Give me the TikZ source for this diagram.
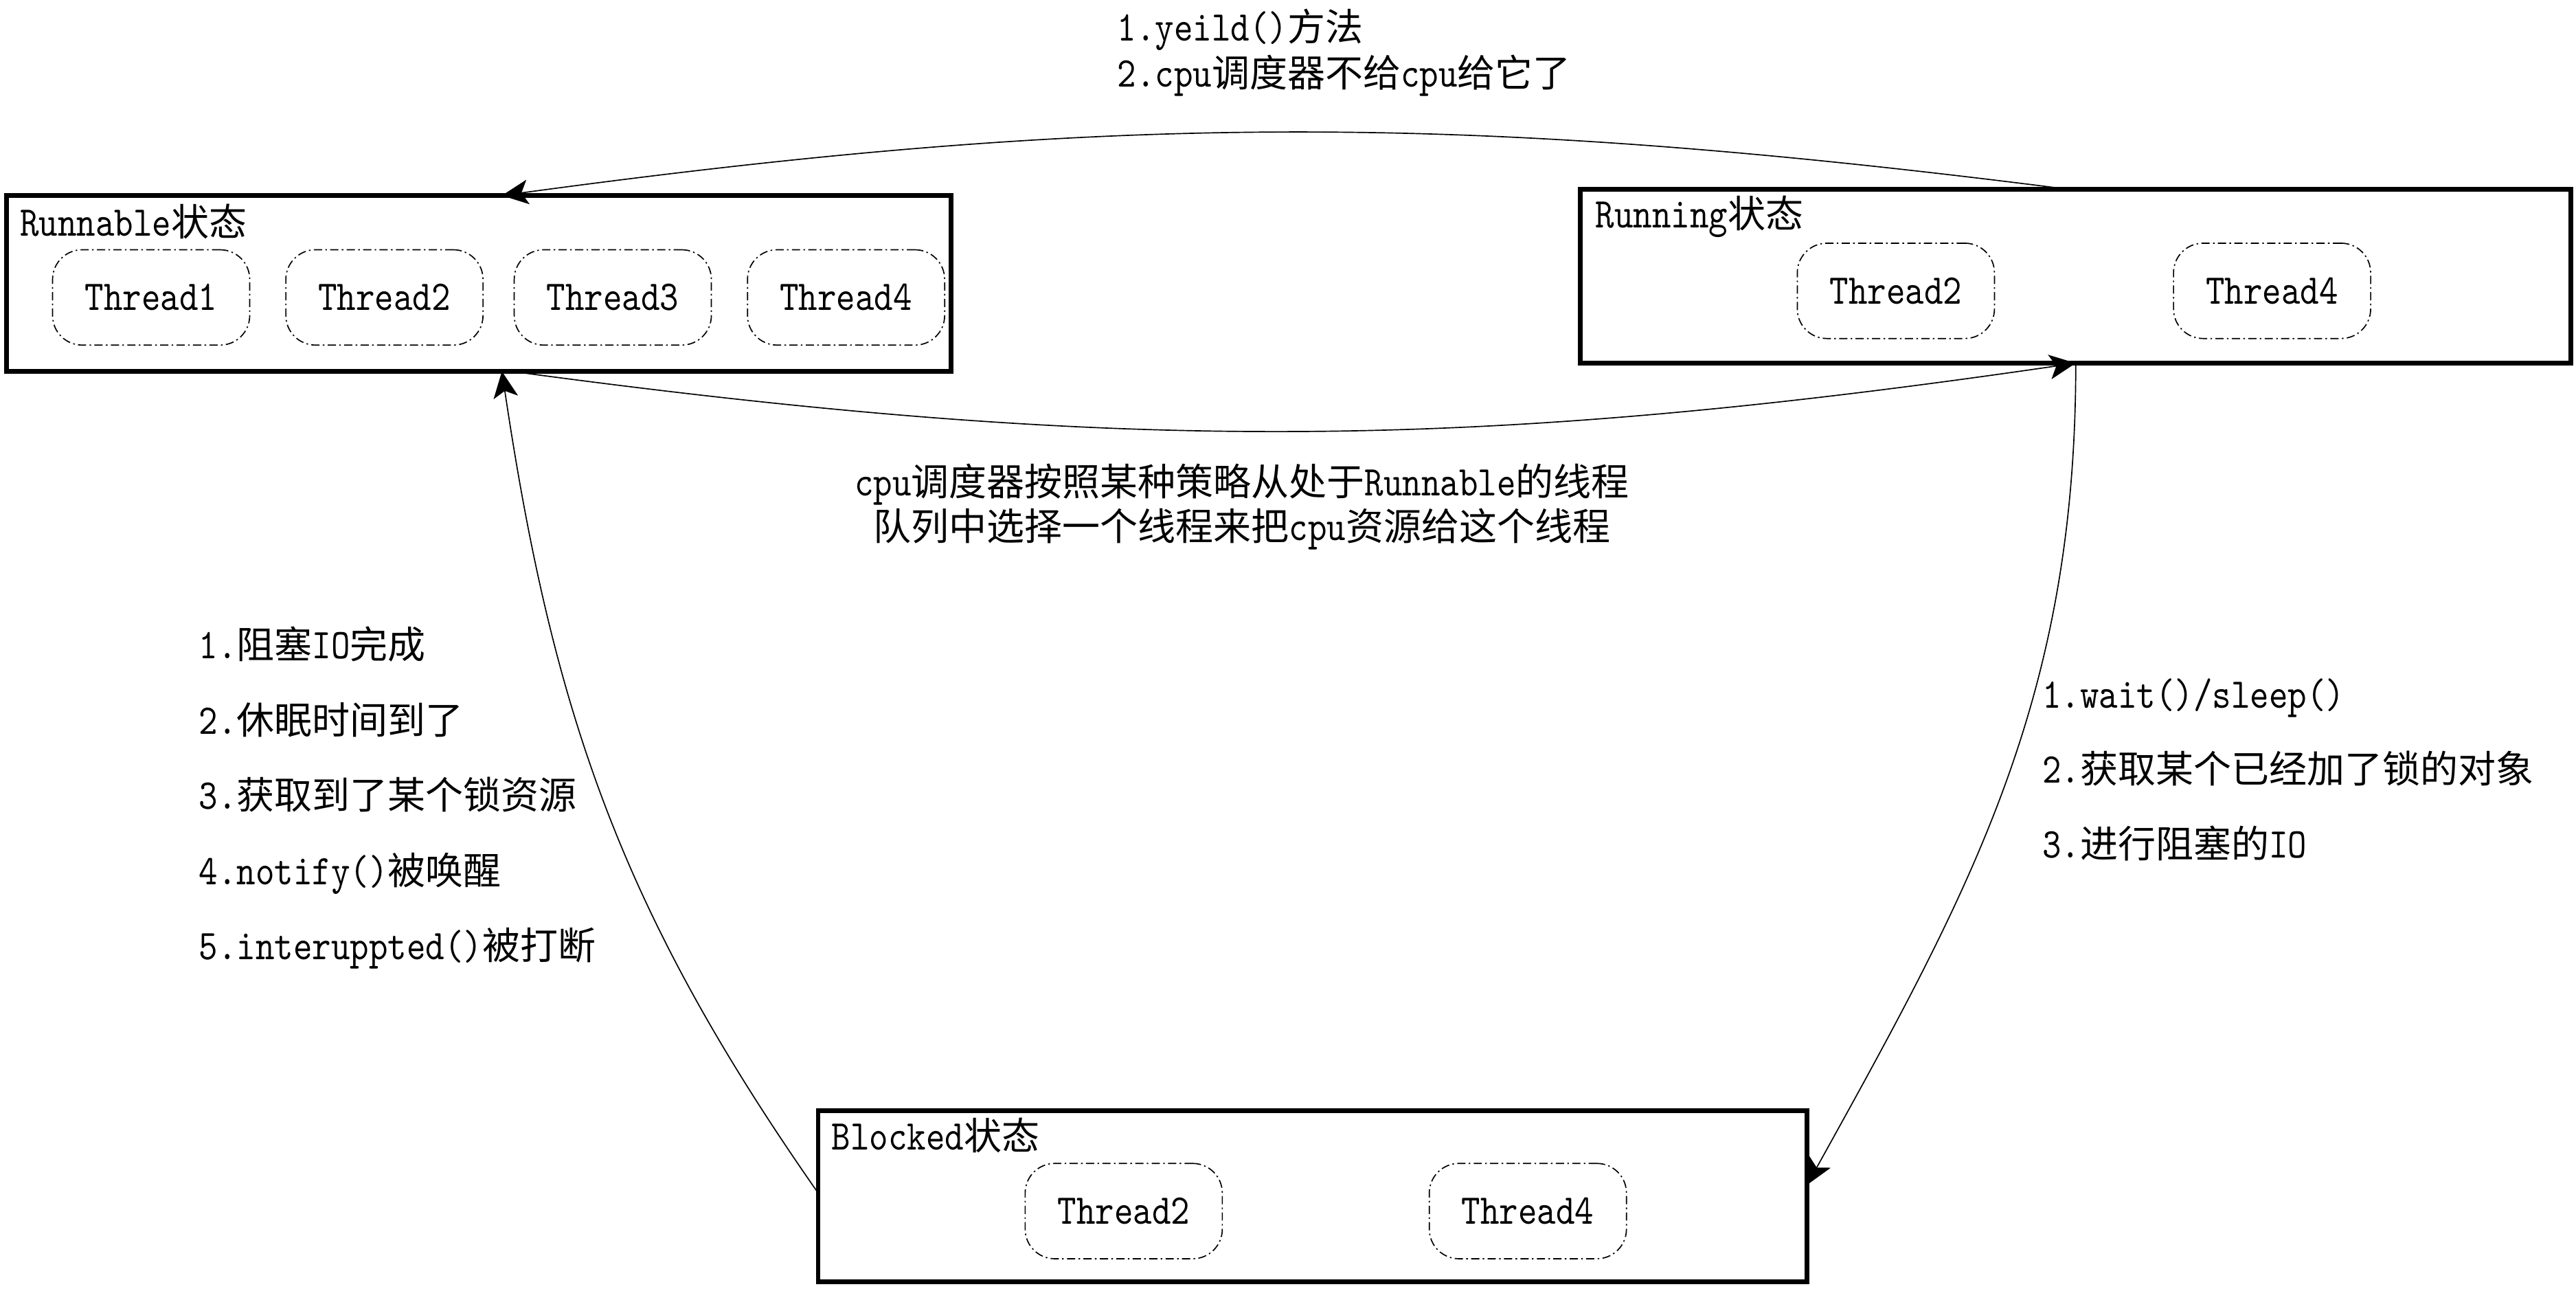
\documentclass[tikz,border=0pt]{standalone}
\usepackage{fontspec}
\setmainfont{lmmono10-regular.otf}[Scale=1.12,FakeStretch=0.85]
\newfontfamily\cjk{Noto Sans CJK SC}
\usetikzlibrary{arrows.meta}
\newcommand\zh[1]{{\cjk #1}}
\begin{document}
\begin{tikzpicture}[x=1pt,y=-1pt,
  every node/.style={font=\fontsize{23}{28}\selectfont},
  box/.style={draw, line width=2.9pt, rectangle, inner sep=0pt, outer sep=0pt},
  thr/.style={draw, line width=0.7pt, rounded corners=18pt,
    dash pattern=on 5pt off 2pt on 1pt off 2pt,
    minimum width=120pt, minimum height=58pt, inner sep=0pt},
  lbl/.style={inner sep=0pt, anchor=west},
  conn/.style={line width=0.7pt, -{Stealth[length=16pt,width=15pt,inset=4pt]}}]
\fill[white] (0,0) rectangle (1568,784);
\useasboundingbox (0,0) rectangle (1568,784);

% state boxes
\node[box, minimum width=575pt, minimum height=107pt] (run) at (291.5,172.5) {};
\node[box, minimum width=603pt, minimum height=106pt] (rng) at (1263.5,168) {};
\node[box, minimum width=602pt, minimum height=104pt] (blk) at (799,728) {};

\node[lbl] (runl) at (12,135) {Runnable\zh{状态}};
\node[lbl] (rngl) at (971,132) {Running\zh{状态}};
\node[lbl] (blkl) at (506,691) {Blocked\zh{状态}};

% threads
\node[thr] (r1) at (92,181) {Thread1};
\node[thr] (r2) at (234,181) {Thread2};
\node[thr] (r3) at (373,181) {Thread3};
\node[thr] (r4) at (515,181) {Thread4};
\node[thr] (g2) at (1154,177) {Thread2};
\node[thr] (g4) at (1383,177) {Thread4};
\node[thr] (b2) at (684,737) {Thread2};
\node[thr] (b4) at (930,737) {Thread4};

% connectors
\draw[conn] ([xshift=-6pt]rng.north) to[bend right=7.5] ([xshift=14pt]run.north);
\draw[conn] ([xshift=20pt]run.south) to[bend right=8] (rng.south);
\draw[conn] (rng.south) to[out=-90, in=61] ([yshift=7pt]blk.east);
\draw[conn] ([yshift=2pt]blk.west) to[out=125, in=-81.5] ([xshift=14pt]run.south);

% texts
\node[lbl, align=left] (ttop) at (680,32) {1.yeild()\zh{方法}\\2.cpu\zh{调度器不给}cpu\zh{给它了}};
\node[inner sep=0pt, align=center, font=\fontsize{23}{27}\selectfont] (tmid) at (756,308.5)
  {cpu\zh{调度器按照某种策略从处于}Runnable\zh{的线程}\\\zh{队列中选择一个线程来把}cpu\zh{资源给这个线程}};
\node[lbl, align=left, font=\fontsize{23}{45.75}\selectfont] (tleft) at (121,485.5)
  {1.\zh{阻塞}IO\zh{完成}\\2.\zh{休眠时间到了}\\3.\zh{获取到了某个锁资源}\\4.notify()\zh{被唤醒}\\5.interuppted()\zh{被打断}};
\node[lbl, align=left, font=\fontsize{23}{45.5}\selectfont] (tright) at (1243,468.5)
  {1.wait()/sleep()\\2.\zh{获取某个已经加了锁的对象}\\3.\zh{进行阻塞的}IO};
\end{tikzpicture}
\end{document}
